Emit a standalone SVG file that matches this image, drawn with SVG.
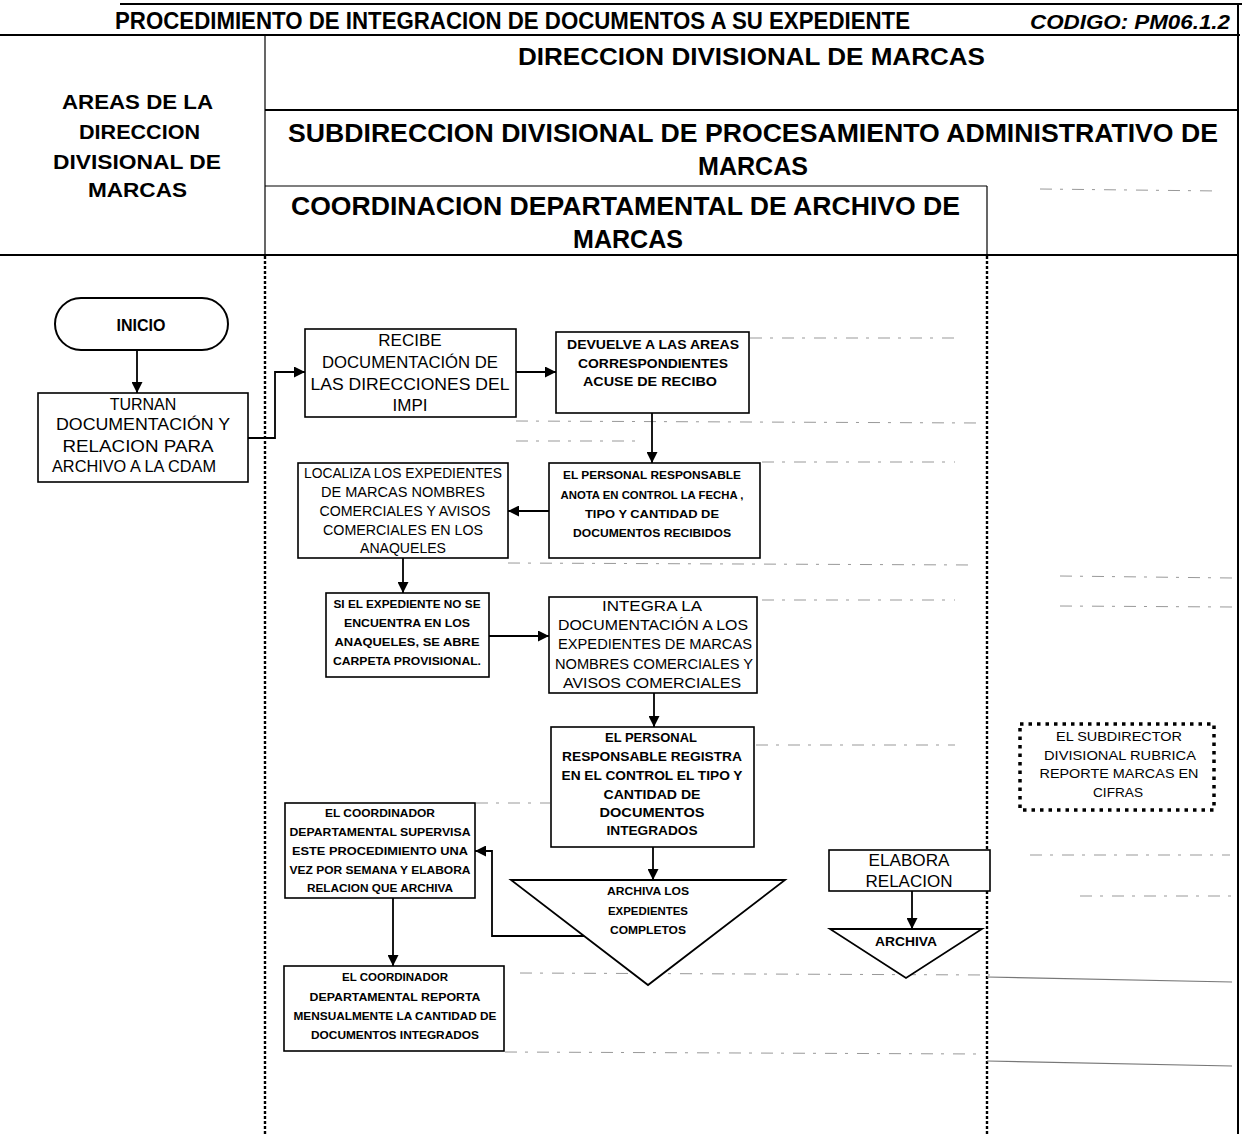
<svg xmlns="http://www.w3.org/2000/svg" width="1242" height="1134" viewBox="0 0 1242 1134">
  <defs>
    <style>
      .frame { stroke: #000; stroke-width: 2; fill: none; }
      .thin { stroke: #000; stroke-width: 1.2; fill: none; }
      .lane { stroke: #000; stroke-width: 2.4; stroke-dasharray: 3 2; fill: none; }
      .faint { stroke: #999; stroke-width: 1; stroke-dasharray: 12 8 3 9; fill: none; }
      .box { fill: #fff; stroke: #000; stroke-width: 1.6; }
      .dotbox { fill: #fff; stroke: #000; stroke-width: 3.5; stroke-dasharray: 3.5 5; }
      .wire { stroke: #000; stroke-width: 1.8; fill: none; }
      .hd { font-family: "Liberation Sans", Arial, sans-serif; font-weight: bold; fill: #000; }
      .t { font-family: "Liberation Sans", Arial, sans-serif; fill: #000; text-anchor: middle; }
      .b { font-family: "Liberation Sans", Arial, sans-serif; font-weight: bold; fill: #000; text-anchor: middle; }
    </style>
    <marker id="arrow" viewBox="0 0 10 10" refX="10" refY="5" markerWidth="11" markerHeight="11" markerUnits="userSpaceOnUse" orient="auto">
      <path d="M0,0 L10,5 L0,10 Z" fill="#000"/>
    </marker>
  </defs>

  <rect x="0" y="0" width="1242" height="1134" fill="#fff"/>

  <!-- page header and lane table -->
  <g id="header">
    <line class="frame" x1="120" y1="4" x2="1242" y2="4" stroke-width="3"/>
    <text class="hd" x="115" y="29" font-size="24" textLength="795" lengthAdjust="spacingAndGlyphs">PROCEDIMIENTO DE INTEGRACION DE DOCUMENTOS A  SU EXPEDIENTE</text>
    <text class="hd" x="1030" y="29" font-size="20" font-style="italic" textLength="200" lengthAdjust="spacingAndGlyphs">CODIGO: PM06.1.2</text>
    <line class="frame" x1="0" y1="35" x2="1240" y2="35"/>
    <line class="frame" x1="1238" y1="4" x2="1238" y2="1134"/>
    <line class="thin" x1="265" y1="35" x2="265" y2="255"/>
    <line class="frame" x1="265" y1="110" x2="1238" y2="110"/>
    <line class="thin" x1="265" y1="186" x2="987" y2="186"/>
    <line class="thin" x1="987" y1="186" x2="987" y2="255"/>
    <line class="frame" x1="0" y1="255" x2="1238" y2="255"/>

    <text class="hd" x="518" y="65" font-size="24" textLength="467" lengthAdjust="spacingAndGlyphs">DIRECCION DIVISIONAL DE MARCAS</text>
    <text class="hd" x="62" y="109" font-size="21" textLength="151" lengthAdjust="spacingAndGlyphs">AREAS DE LA</text>
    <text class="hd" x="79" y="139" font-size="21" textLength="121" lengthAdjust="spacingAndGlyphs">DIRECCION</text>
    <text class="hd" x="53" y="169" font-size="21" textLength="168" lengthAdjust="spacingAndGlyphs">DIVISIONAL DE</text>
    <text class="hd" x="88" y="197" font-size="21" textLength="99" lengthAdjust="spacingAndGlyphs">MARCAS</text>
    <text class="hd" x="288" y="142" font-size="26" textLength="930" lengthAdjust="spacingAndGlyphs">SUBDIRECCION DIVISIONAL DE PROCESAMIENTO ADMINISTRATIVO DE</text>
    <text class="hd" x="698" y="175" font-size="26" textLength="110" lengthAdjust="spacingAndGlyphs">MARCAS</text>
    <text class="hd" x="291" y="215" font-size="26" textLength="669" lengthAdjust="spacingAndGlyphs">COORDINACION DEPARTAMENTAL DE ARCHIVO DE</text>
    <text class="hd" x="573" y="248" font-size="26" textLength="110" lengthAdjust="spacingAndGlyphs">MARCAS</text>
  </g>

  <!-- lane separators and faint ruling of the form -->
  <g id="lanes">
    <line class="lane" x1="265" y1="256" x2="265" y2="1134"/>
    <line class="lane" x1="987" y1="256" x2="987" y2="1134"/>
    <line class="faint" x1="750" y1="338" x2="955" y2="338"/>
    <line class="faint" x1="516" y1="421" x2="980" y2="423"/>
    <line class="faint" x1="516" y1="441" x2="640" y2="441"/>
    <line class="faint" x1="762" y1="462" x2="955" y2="462"/>
    <line class="faint" x1="508" y1="563" x2="975" y2="565"/>
    <line class="faint" x1="762" y1="600" x2="955" y2="600"/>
    <line class="faint" x1="476" y1="803" x2="550" y2="803"/>
    <line class="faint" x1="756" y1="745" x2="955" y2="745"/>
    <line class="faint" x1="520" y1="973" x2="990" y2="975"/>
    <line class="faint" x1="505" y1="1052" x2="980" y2="1054"/>
    <line class="faint" x1="1040" y1="189" x2="1220" y2="191"/>
    <line class="faint" x1="1060" y1="576" x2="1232" y2="578"/>
    <line class="faint" x1="1060" y1="606" x2="1232" y2="607"/>
    <line class="faint" x1="1030" y1="855" x2="1230" y2="855"/>
    <line class="faint" x1="1080" y1="896" x2="1235" y2="896"/>
    <line x1="987" y1="977" x2="1232" y2="982" stroke="#777" stroke-width="1.2"/>
    <line x1="987" y1="1061" x2="1232" y2="1066" stroke="#777" stroke-width="1.2"/>
  </g>

  <!-- flow connectors -->
  <g id="connectors">
    <path class="wire" d="M137,350 V393" marker-end="url(#arrow)"/>
    <path class="wire" d="M248,438 H275 V372 H305" marker-end="url(#arrow)"/>
    <path class="wire" d="M516,372 H556" marker-end="url(#arrow)"/>
    <path class="wire" d="M652,413 V463" marker-end="url(#arrow)"/>
    <path class="wire" d="M549,511 H508" marker-end="url(#arrow)"/>
    <path class="wire" d="M403,558 V593" marker-end="url(#arrow)"/>
    <path class="wire" d="M489,636 H549" marker-end="url(#arrow)"/>
    <path class="wire" d="M654,693 V727" marker-end="url(#arrow)"/>
    <path class="wire" d="M653,847 V880" marker-end="url(#arrow)"/>
    <path class="wire" d="M584,936 H492 V851 H475" marker-end="url(#arrow)"/>
    <path class="wire" d="M393,898 V966" marker-end="url(#arrow)"/>
    <path class="wire" d="M912,891 V929" marker-end="url(#arrow)"/>
  </g>

  <g id="inicio">
    <rect x="55" y="298" width="173" height="52" rx="26" fill="#fff" stroke="#000" stroke-width="2"/>
    <text class="b" x="141" y="331" font-size="16">INICIO</text>
  </g>

  <g id="turnan">
    <rect class="box" x="38" y="393" width="210" height="89"/>
    <text class="t" x="143" y="410" font-size="16">TURNAN</text>
    <text class="t" x="143" y="430" font-size="16" textLength="174" lengthAdjust="spacingAndGlyphs">DOCUMENTACIÓN Y</text>
    <text class="t" x="138" y="452" font-size="16" textLength="151" lengthAdjust="spacingAndGlyphs">RELACION PARA</text>
    <text class="t" x="134" y="472" font-size="16" textLength="164" lengthAdjust="spacingAndGlyphs">ARCHIVO A LA CDAM</text>
  </g>

  <g id="recibe">
    <rect class="box" x="305" y="329" width="211" height="88"/>
    <text class="t" x="410" y="346" font-size="17">RECIBE</text>
    <text class="t" x="410" y="368" font-size="17" textLength="176" lengthAdjust="spacingAndGlyphs">DOCUMENTACIÓN DE</text>
    <text class="t" x="410" y="390" font-size="17" textLength="199" lengthAdjust="spacingAndGlyphs">LAS DIRECCIONES DEL</text>
    <text class="t" x="410" y="411" font-size="17">IMPI</text>
  </g>

  <g id="devuelve">
    <rect class="box" x="556" y="332" width="193" height="81"/>
    <text class="b" x="653" y="349" font-size="13" textLength="172" lengthAdjust="spacingAndGlyphs">DEVUELVE A LAS AREAS</text>
    <text class="b" x="653" y="368" font-size="13" textLength="150" lengthAdjust="spacingAndGlyphs">CORRESPONDIENTES</text>
    <text class="b" x="650" y="386" font-size="13" textLength="134" lengthAdjust="spacingAndGlyphs">ACUSE DE RECIBO</text>
  </g>

  <g id="anota">
    <rect class="box" x="549" y="463" width="211" height="95"/>
    <text class="b" x="652" y="479" font-size="11" textLength="178" lengthAdjust="spacingAndGlyphs">EL PERSONAL RESPONSABLE</text>
    <text class="b" x="652" y="499" font-size="11" textLength="183" lengthAdjust="spacingAndGlyphs">ANOTA EN CONTROL LA FECHA ,</text>
    <text class="b" x="652" y="518" font-size="11" textLength="134" lengthAdjust="spacingAndGlyphs">TIPO Y CANTIDAD DE</text>
    <text class="b" x="652" y="537" font-size="11" textLength="158" lengthAdjust="spacingAndGlyphs">DOCUMENTOS RECIBIDOS</text>
  </g>

  <g id="localiza">
    <rect class="box" x="298" y="463" width="210" height="95"/>
    <text class="t" x="403" y="478" font-size="14" textLength="198" lengthAdjust="spacingAndGlyphs">LOCALIZA LOS EXPEDIENTES</text>
    <text class="t" x="403" y="497" font-size="14" textLength="164" lengthAdjust="spacingAndGlyphs">DE MARCAS NOMBRES</text>
    <text class="t" x="405" y="516" font-size="14" textLength="171" lengthAdjust="spacingAndGlyphs">COMERCIALES Y AVISOS</text>
    <text class="t" x="403" y="535" font-size="14" textLength="160" lengthAdjust="spacingAndGlyphs">COMERCIALES EN LOS</text>
    <text class="t" x="403" y="553" font-size="14" textLength="86" lengthAdjust="spacingAndGlyphs">ANAQUELES</text>
  </g>

  <g id="provisional">
    <rect class="box" x="326" y="593" width="163" height="84"/>
    <text class="b" x="407" y="608" font-size="10.5" textLength="147" lengthAdjust="spacingAndGlyphs">SI EL EXPEDIENTE NO SE</text>
    <text class="b" x="407" y="627" font-size="10.5" textLength="126" lengthAdjust="spacingAndGlyphs">ENCUENTRA EN LOS</text>
    <text class="b" x="407" y="646" font-size="10.5" textLength="145" lengthAdjust="spacingAndGlyphs">ANAQUELES, SE ABRE</text>
    <text class="b" x="407" y="665" font-size="10.5" textLength="148" lengthAdjust="spacingAndGlyphs">CARPETA PROVISIONAL.</text>
  </g>

  <g id="integra">
    <rect class="box" x="549" y="597" width="208" height="96"/>
    <text class="t" x="652" y="611" font-size="14.5" textLength="100" lengthAdjust="spacingAndGlyphs">INTEGRA LA</text>
    <text class="t" x="653" y="630" font-size="14.5" textLength="190" lengthAdjust="spacingAndGlyphs">DOCUMENTACIÓN A LOS</text>
    <text class="t" x="655" y="649" font-size="14.5" textLength="194" lengthAdjust="spacingAndGlyphs">EXPEDIENTES DE MARCAS</text>
    <text class="t" x="654" y="669" font-size="14.5" textLength="198" lengthAdjust="spacingAndGlyphs">NOMBRES COMERCIALES Y</text>
    <text class="t" x="652" y="688" font-size="14.5" textLength="178" lengthAdjust="spacingAndGlyphs">AVISOS COMERCIALES</text>
  </g>

  <g id="registra">
    <rect class="box" x="551" y="727" width="203" height="120"/>
    <text class="b" x="651" y="742" font-size="12.5" textLength="92" lengthAdjust="spacingAndGlyphs">EL PERSONAL</text>
    <text class="b" x="652" y="761" font-size="12.5" textLength="180" lengthAdjust="spacingAndGlyphs">RESPONSABLE REGISTRA</text>
    <text class="b" x="652" y="780" font-size="12.5" textLength="181" lengthAdjust="spacingAndGlyphs">EN EL CONTROL EL TIPO Y</text>
    <text class="b" x="652" y="799" font-size="12.5" textLength="97" lengthAdjust="spacingAndGlyphs">CANTIDAD DE</text>
    <text class="b" x="652" y="817" font-size="12.5" textLength="105" lengthAdjust="spacingAndGlyphs">DOCUMENTOS</text>
    <text class="b" x="652" y="835" font-size="12.5" textLength="91" lengthAdjust="spacingAndGlyphs">INTEGRADOS</text>
  </g>

  <g id="archiva-expedientes">
    <polygon points="511,880 785,880 648,985" fill="#fff" stroke="#000" stroke-width="1.8"/>
    <text class="b" x="648" y="895" font-size="10" textLength="82" lengthAdjust="spacingAndGlyphs">ARCHIVA LOS</text>
    <text class="b" x="648" y="915" font-size="10" textLength="80" lengthAdjust="spacingAndGlyphs">EXPEDIENTES</text>
    <text class="b" x="648" y="934" font-size="10" textLength="76" lengthAdjust="spacingAndGlyphs">COMPLETOS</text>
  </g>

  <g id="supervisa">
    <rect class="box" x="285" y="803" width="190" height="95"/>
    <text class="b" x="380" y="817" font-size="10" textLength="110" lengthAdjust="spacingAndGlyphs">EL COORDINADOR</text>
    <text class="b" x="380" y="836" font-size="10" textLength="181" lengthAdjust="spacingAndGlyphs">DEPARTAMENTAL SUPERVISA</text>
    <text class="b" x="380" y="855" font-size="10" textLength="176" lengthAdjust="spacingAndGlyphs">ESTE PROCEDIMIENTO UNA</text>
    <text class="b" x="380" y="874" font-size="10" textLength="181" lengthAdjust="spacingAndGlyphs">VEZ POR SEMANA Y ELABORA</text>
    <text class="b" x="380" y="892" font-size="10" textLength="146" lengthAdjust="spacingAndGlyphs">RELACION QUE ARCHIVA</text>
  </g>

  <g id="reporta">
    <rect class="box" x="284" y="966" width="220" height="85"/>
    <text class="b" x="395" y="981" font-size="10" textLength="106" lengthAdjust="spacingAndGlyphs">EL COORDINADOR</text>
    <text class="b" x="395" y="1001" font-size="10" textLength="171" lengthAdjust="spacingAndGlyphs">DEPARTAMENTAL REPORTA</text>
    <text class="b" x="395" y="1020" font-size="10" textLength="203" lengthAdjust="spacingAndGlyphs">MENSUALMENTE LA CANTIDAD DE</text>
    <text class="b" x="395" y="1039" font-size="10" textLength="168" lengthAdjust="spacingAndGlyphs">DOCUMENTOS INTEGRADOS</text>
  </g>

  <g id="elabora">
    <rect class="box" x="829" y="850" width="161" height="41"/>
    <text class="t" x="909" y="866" font-size="16" textLength="81" lengthAdjust="spacingAndGlyphs">ELABORA</text>
    <text class="t" x="909" y="887" font-size="16" textLength="87" lengthAdjust="spacingAndGlyphs">RELACION</text>
  </g>

  <g id="archiva">
    <polygon points="830,929 982,929 906,978" fill="#fff" stroke="#000" stroke-width="1.8"/>
    <text class="b" x="906" y="946" font-size="12" textLength="62" lengthAdjust="spacingAndGlyphs">ARCHIVA</text>
  </g>

  <g id="rubrica">
    <rect class="dotbox" x="1020" y="724" width="194" height="86"/>
    <text class="t" x="1119" y="741" font-size="13" textLength="126" lengthAdjust="spacingAndGlyphs">EL SUBDIRECTOR</text>
    <text class="t" x="1120" y="760" font-size="13" textLength="152" lengthAdjust="spacingAndGlyphs">DIVISIONAL RUBRICA</text>
    <text class="t" x="1119" y="778" font-size="13" textLength="159" lengthAdjust="spacingAndGlyphs">REPORTE MARCAS EN</text>
    <text class="t" x="1118" y="797" font-size="13" textLength="50" lengthAdjust="spacingAndGlyphs">CIFRAS</text>
  </g>
</svg>
